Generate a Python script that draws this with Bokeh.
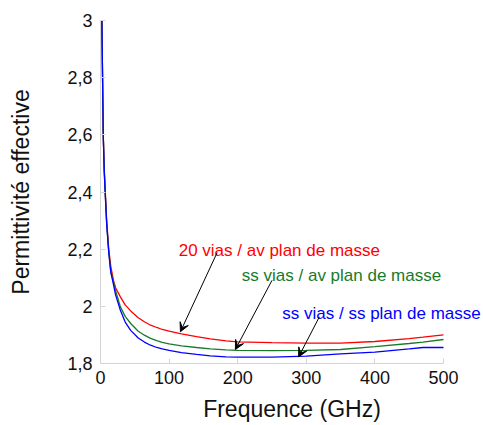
from bokeh.plotting import figure
from bokeh.models import (Range1d, FixedTicker, CustomJSTickFormatter, Label,
                          Arrow, VeeHead)
from bokeh.embed import file_html
from bokeh.resources import INLINE

# ---- data ----
freq = [2, 3, 4, 5.5, 7, 9, 12, 15, 19, 22, 29, 36, 44, 55, 64, 73, 82, 90,
        100, 118, 140, 160, 183, 200, 250, 300, 350, 400, 450, 470, 500]
red_20vias_av = [3.0, 2.8, 2.6, 2.48, 2.4, 2.3, 2.2, 2.14, 2.09, 2.065, 2.033,
                 2.005, 1.984, 1.96, 1.946, 1.934, 1.926, 1.919, 1.913, 1.904,
                 1.894, 1.886, 1.879, 1.876, 1.873, 1.871, 1.871, 1.877,
                 1.887, 1.892, 1.90]
green_ssvias_av = [3.0, 2.8, 2.6, 2.47, 2.39, 2.29, 2.19, 2.12, 2.085, 2.055,
                   1.998, 1.965, 1.94, 1.913, 1.899, 1.888, 1.880, 1.874,
                   1.869, 1.862, 1.856, 1.851, 1.848, 1.846, 1.845, 1.846,
                   1.849, 1.859, 1.870, 1.875, 1.884]
blue_ssvias_ss = [3.0, 2.8, 2.6, 2.47, 2.39, 2.29, 2.19, 2.12, 2.075, 2.04,
                  1.986, 1.945, 1.916, 1.889, 1.875, 1.864, 1.856, 1.851,
                  1.846, 1.838, 1.832, 1.827, 1.823, 1.822, 1.822, 1.826,
                  1.834, 1.84, 1.851, 1.856, 1.856]

series_names = ["20 vias / av plan de masse", "ss vias / av plan de masse",
                "ss vias / ss plan de masse"]
series_colors = ["#ff0000", "#1a7a2a", "#0000ff"]
label_x = [114, 206, 265]
label_y = [2.196, 2.108, 1.976]
arrow_x_start = [170, 250, 319]
arrow_y_start = [2.188, 2.091, 1.963]
arrow_x_end = [116.5, 196.6, 288.8]
arrow_y_end = [1.911, 1.849, 1.823]

x_ticks = [0, 100, 200, 300, 400, 500]
y_ticks = [1.8, 2.0, 2.2, 2.4, 2.6, 2.8, 3.0]
x_axis_end = 500

FONT = "Liberation Sans"

W, H = 483, 425
LEFT, TOP, BOTTOM = 100, 20, 62
FRAME = 343  # pixels spanned by 0..500 and 1.8..3.0

p = figure(width=W, height=H, output_backend="svg", toolbar_location=None,
           x_range=Range1d(0, x_axis_end * (W - LEFT) / FRAME),
           y_range=Range1d(1.8, 3.0),
           min_border_left=LEFT, min_border_right=0, min_border_top=TOP,
           min_border_bottom=BOTTOM)
p.outline_line_color = None
p.xgrid.visible = False
p.ygrid.visible = False
p.background_fill_color = "white"
p.border_fill_color = "white"

for ys, c in zip([red_20vias_av, green_ssvias_av, blue_ssvias_ss], series_colors):
    p.line(freq, ys, line_color=c, line_width=1.3)

for ax in (p.xaxis[0], p.yaxis[0]):
    ax.axis_line_color = "#d4d4d4"
    ax.major_tick_line_color = "#d4d4d4"
    ax.major_tick_in = 5
    ax.major_tick_out = 0
    ax.minor_tick_line_color = None
    ax.major_label_text_font = FONT
    ax.major_label_text_font_size = "18px"
    ax.major_label_text_color = "#111111"
    ax.axis_label_text_font = FONT
    ax.axis_label_text_font_size = "23px"
    ax.axis_label_text_font_style = "normal"
    ax.axis_label_text_color = "#111111"

p.xaxis[0].bounds = (0, x_axis_end)
p.xaxis[0].ticker = FixedTicker(ticks=x_ticks)
p.yaxis[0].ticker = FixedTicker(ticks=y_ticks)
p.yaxis[0].formatter = CustomJSTickFormatter(
    code="var s = tick.toFixed(1); if (s.endsWith('.0')) { s = s.slice(0, -2); } return s.replace('.', ',');")
p.xaxis[0].axis_label = "Frequence (GHz)"
p.yaxis[0].axis_label = "Permittivité effective"
p.xaxis[0].major_label_standoff = 7
p.xaxis[0].axis_label_standoff = 9
p.yaxis[0].major_label_standoff = 8
p.yaxis[0].axis_label_standoff = 30

for name, c, lx, ly in zip(series_names, series_colors, label_x, label_y):
    p.add_layout(Label(x=lx, y=ly, text=name, text_color=c, text_font=FONT,
                       text_font_size="17px", text_baseline="alphabetic"))

for xs, ys, xe, ye in zip(arrow_x_start, arrow_y_start, arrow_x_end, arrow_y_end):
    p.add_layout(Arrow(x_start=xs, y_start=ys, x_end=xe, y_end=ye,
                       line_color="black", line_width=1,
                       end=VeeHead(size=9, fill_color="black", line_color="black",
                                   line_width=1)))

open("out.html", "w").write(file_html(p, INLINE))
